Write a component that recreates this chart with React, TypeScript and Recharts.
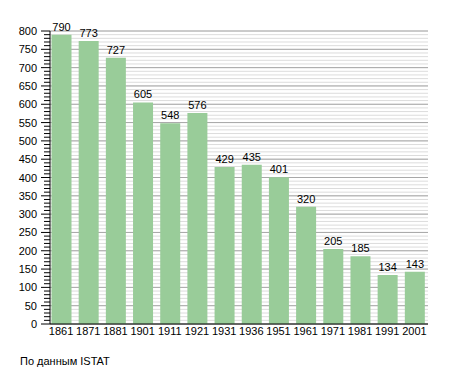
import React from 'react';
import { BarChart, Bar, XAxis, YAxis, CartesianGrid, LabelList } from 'recharts';

const years = ['1861', '1871', '1881', '1901', '1911', '1921', '1931', '1936', '1951', '1961', '1971', '1981', '1991', '2001'];
const population = [790, 773, 727, 605, 548, 576, 429, 435, 401, 320, 205, 185, 134, 143];
const majorTicks = [0, 50, 100, 150, 200, 250, 300, 350, 400, 450, 500, 550, 600, 650, 700, 750, 800];
const minorTicks = Array.from({ length: 81 }, (_, i) => i * 10);

const data = years.map((year, i) => ({ year, value: population[i] }));

const FONT = '"Liberation Sans", Arial, sans-serif';

function YTick(props: any) {
  const { x, y, payload } = props;
  const v = payload.value as number;
  const major = v % 50 === 0;
  return (
    <g>
      <line x1={major ? x + 4 : x + 7} x2={x + 13} y1={y} y2={y} stroke="#000" strokeWidth={1} />
      {major && (
        <text x={x} y={y} dy={4} textAnchor="end" fontSize={11} fontFamily={FONT} fill="#000">
          {v}
        </text>
      )}
    </g>
  );
}

export default function App() {
  return (
    <div style={{ position: 'absolute', left: 0, top: 0, width: 455, height: 373, background: '#fff' }}>
      <BarChart width={455} height={373} data={data} margin={{ top: 31, right: 27, bottom: 0, left: 0 }}>
        <CartesianGrid vertical={false} horizontalValues={minorTicks} stroke="#dcdcdc" strokeWidth={1} />
        <CartesianGrid vertical={false} horizontalValues={majorTicks} stroke="#a8a8a8" strokeWidth={1} />
        <XAxis
          dataKey="year"
          padding={{ left: -2.5, right: 0 }}
          tickLine={false}
          tickSize={0}
          tickMargin={3}
          height={49}
          axisLine={{ stroke: '#000' }}
          tick={{ fontSize: 11, fill: '#000', fontFamily: FONT }}
          interval={0}
        />
        <YAxis
          domain={[0, 800]}
          ticks={minorTicks}
          interval={0}
          width={50}
          tickSize={8}
          tickMargin={5}
          tickLine={false}
          axisLine={{ stroke: '#000' }}
          tick={<YTick />}
        />
        <Bar dataKey="value" fill="#99cc99" barSize={20} isAnimationActive={false}>
          <LabelList dataKey="value" position="top" offset={4} fontSize={11} fill="#000" fontFamily={FONT} />
        </Bar>
      </BarChart>
      <div style={{ position: 'absolute', left: 20, top: 355, fontSize: 11, fontFamily: FONT, color: '#000' }}>
        По данным ISTAT
      </div>
    </div>
  );
}
